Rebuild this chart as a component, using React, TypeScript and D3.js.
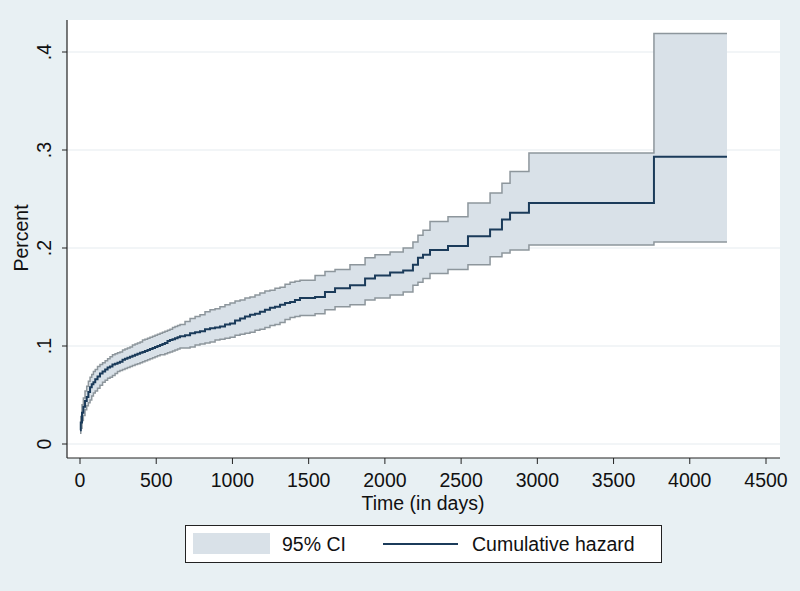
import * as d3 from 'd3'

// Nelson-Aalen cumulative hazard with 95% CI
const days = [
  0, 5, 13, 22, 33, 44, 55, 66, 77, 88, 100, 115, 131, 148, 165, 181, 197, 213, 230, 246, 262, 279,
  295, 311, 328, 344, 361, 377, 394, 410, 426, 443, 459, 476, 492, 508, 525, 541, 557, 574, 590, 607,
  623, 640, 656, 689, 722, 755, 787, 820, 853, 886, 918, 951, 984, 1017, 1050, 1082, 1115, 1148,
  1180, 1213, 1246, 1279, 1312, 1345, 1378, 1410, 1443, 1542, 1607, 1673, 1771, 1870, 1935, 2034,
  2120, 2184, 2217, 2250, 2296, 2414, 2545, 2690, 2768, 2821, 2945, 3765, 4244,
]
const hazard = [
  0.014, 0.022, 0.032, 0.038, 0.044, 0.048, 0.053, 0.058, 0.061, 0.063, 0.066, 0.069, 0.072, 0.074,
  0.076, 0.078, 0.079, 0.081, 0.082, 0.083, 0.084, 0.086, 0.087, 0.088, 0.089, 0.09, 0.091, 0.092,
  0.093, 0.094, 0.095, 0.096, 0.097, 0.098, 0.099, 0.1, 0.101, 0.102, 0.103, 0.105, 0.106, 0.107,
  0.108, 0.109, 0.11, 0.111, 0.113, 0.114, 0.115, 0.117, 0.118, 0.119, 0.12, 0.122, 0.123, 0.126,
  0.128, 0.13, 0.132, 0.133, 0.135, 0.137, 0.139, 0.14, 0.142, 0.144, 0.145, 0.147, 0.149, 0.15,
  0.155, 0.159, 0.162, 0.169, 0.172, 0.175, 0.177, 0.183, 0.19, 0.193, 0.198, 0.202, 0.212, 0.219,
  0.229, 0.236, 0.246, 0.293, 0.293,
]
const upper = [
  0.019, 0.028, 0.04, 0.047, 0.054, 0.059, 0.064, 0.068, 0.071, 0.074, 0.076, 0.079, 0.081, 0.083,
  0.085, 0.087, 0.089, 0.091, 0.092, 0.093, 0.094, 0.096, 0.097, 0.098, 0.099, 0.101, 0.102, 0.103,
  0.104, 0.106, 0.107, 0.108, 0.109, 0.11, 0.111, 0.112, 0.113, 0.114, 0.115, 0.116, 0.117, 0.119,
  0.12, 0.121, 0.122, 0.125, 0.128, 0.13, 0.132, 0.135, 0.137, 0.138, 0.14, 0.142, 0.144, 0.146,
  0.147, 0.149, 0.15, 0.152, 0.154, 0.156, 0.157, 0.159, 0.16, 0.163, 0.165, 0.166, 0.167, 0.172,
  0.176, 0.178, 0.183, 0.19, 0.193, 0.196, 0.2, 0.206, 0.213, 0.218, 0.227, 0.232, 0.246, 0.256,
  0.266, 0.278, 0.297, 0.419, 0.419,
]
const lower = [
  0.011, 0.016, 0.024, 0.029, 0.035, 0.039, 0.042, 0.045, 0.049, 0.052, 0.054, 0.057, 0.06, 0.063,
  0.065, 0.067, 0.068, 0.07, 0.072, 0.074, 0.075, 0.076, 0.077, 0.078, 0.079, 0.08, 0.081, 0.082,
  0.083, 0.084, 0.085, 0.086, 0.087, 0.088, 0.089, 0.09, 0.091, 0.091, 0.092, 0.093, 0.094, 0.095,
  0.096, 0.097, 0.098, 0.098, 0.099, 0.101, 0.102, 0.103, 0.104, 0.106, 0.107, 0.108, 0.109, 0.111,
  0.112, 0.113, 0.114, 0.116, 0.117, 0.119, 0.121, 0.122, 0.124, 0.127, 0.129, 0.13, 0.131, 0.133,
  0.137, 0.14, 0.142, 0.147, 0.149, 0.152, 0.155, 0.162, 0.165, 0.169, 0.174, 0.178, 0.183, 0.191,
  0.195, 0.198, 0.203, 0.206, 0.206,
]

const xTicks = [0, 500, 1000, 1500, 2000, 2500, 3000, 3500, 4000, 4500]
const yTicks = [0, 0.1, 0.2, 0.3, 0.4]
const yTickLabels = ['0', '.1', '.2', '.3', '.4']

const W = 800
const H = 591
const FONT = '"Liberation Sans", Arial, Helvetica, sans-serif'

export default function App() {
  // plot frame
  const left = 67, right = 780, top = 20, bottom = 458

  const x = d3.scaleLinear().domain([0, 4500]).range([80, 766])
  const y = d3.scaleLinear().domain([0, 0.4]).range([444, 52])

  const rows = days.map((t, i) => ({ t, h: hazard[i], lo: lower[i], hi: upper[i] }))

  const band = d3.area<any>()
    .curve(d3.curveStepAfter)
    .x(d => x(d.t))
    .y0(d => y(d.lo))
    .y1(d => y(d.hi))
  const line = (key: 'h' | 'lo' | 'hi') =>
    d3.line<any>().curve(d3.curveStepAfter).x(d => x(d.t)).y(d => y(d[key]))(rows) || ''

  return (
    <svg width={W} height={H} style={{ position: 'absolute', left: 0, top: 0 }} fontFamily={FONT}>
      <rect width={W} height={H} fill="#e8f0f3" />
      <rect x={left} y={top} width={right - left} height={bottom - top} fill="#ffffff" />

      {/* gridlines */}
      {yTicks.map(v => (
        <line key={v} x1={left} x2={right} y1={y(v)} y2={y(v)} stroke="#e6ecef" strokeWidth={1.2} />
      ))}

      {/* CI band */}
      <path d={band(rows) || ''} fill="#d9e1e8" />
      <path d={line('hi')} fill="none" stroke="#8d969c" strokeWidth={1.5} />
      <path d={line('lo')} fill="none" stroke="#8d969c" strokeWidth={1.5} />
      <path d={line('h')} fill="none" stroke="#1b3b5a" strokeWidth={2} />

      {/* axes */}
      <line x1={left} x2={left} y1={top} y2={bottom} stroke="#222" strokeWidth={1.2} />
      <line x1={left} x2={right} y1={bottom} y2={bottom} stroke="#222" strokeWidth={1.2} />

      {yTicks.map((v, i) => (
        <g key={v}>
          <line x1={left - 5} x2={left} y1={y(v)} y2={y(v)} stroke="#222" strokeWidth={1} />
          <text
            transform={`translate(${51},${y(v)}) rotate(-90)`}
            textAnchor="middle"
            fontSize={19.5}
            fill="#111"
          >
            {yTickLabels[i]}
          </text>
        </g>
      ))}
      <text transform={`translate(28,238) rotate(-90)`} textAnchor="middle" fontSize={19.5} fill="#111">
        Percent
      </text>

      {xTicks.map(v => (
        <g key={v}>
          <line x1={x(v)} x2={x(v)} y1={bottom} y2={bottom + 6} stroke="#222" strokeWidth={1} />
          <text x={x(v)} y={487} textAnchor="middle" fontSize={19.5} fill="#111">
            {v}
          </text>
        </g>
      ))}
      <text x={423} y={510} textAnchor="middle" fontSize={19.5} fill="#111">
        Time (in days)
      </text>

      {/* legend */}
      <rect x={185.5} y={525.5} width={476} height={37} fill="#ffffff" stroke="#222" strokeWidth={1} />
      <rect x={193} y={533} width={77} height={21} fill="#d9e1e8" />
      <text x={282} y={551} fontSize={19.5} fill="#111">95% CI</text>
      <line x1={383} x2={458} y1={544} y2={544} stroke="#1b3b5a" strokeWidth={2} />
      <text x={472} y={551} fontSize={19.5} fill="#111">Cumulative hazard</text>
    </svg>
  )
}
